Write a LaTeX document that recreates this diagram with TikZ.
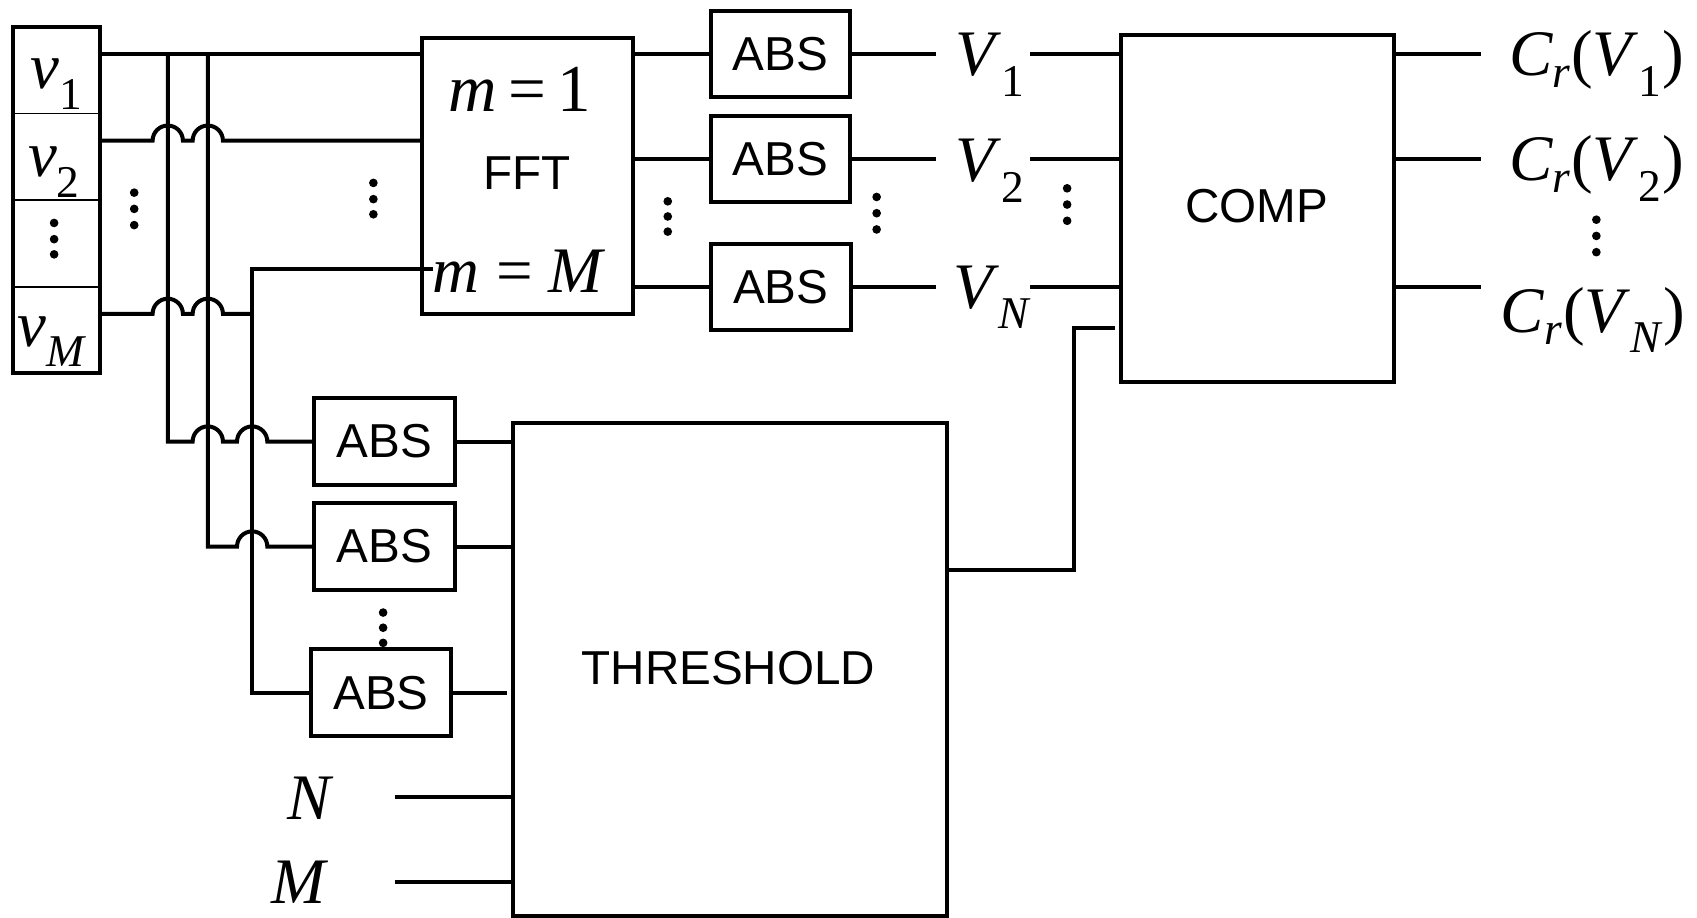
\documentclass[tikz,border=0pt]{standalone}
\usepackage{fontspec}
\setmainfont{Liberation Serif}
\newfontfamily\absfont{Liberation Sans}
\begin{document}
\begin{tikzpicture}[x=1pt,y=-1pt,
  box/.style={draw, line width=3.7pt, rectangle, inner sep=0pt, outer sep=0pt},
  blk/.style={box, font=\absfont\fontsize{44}{48}\selectfont},
  lbl/.style={inner sep=0pt, anchor=base, font=\fontsize{60}{64}\selectfont},
  sanslbl/.style={inner sep=0pt, font=\absfont\fontsize{44}{48}\selectfont},
  wire/.style={line width=3.7pt, line join=miter},
  thin/.style={line width=1.4pt},
  dot/.style={fill=black}]
\useasboundingbox (0,0) rectangle (1568,848);

% input register
\node[box, minimum width=80pt, minimum height=320pt] (inb) at (52,185) {};
\draw[thin] (inb.west |- 0,105) -- (inb.east |- 0,105);
\draw[thin] (inb.west |- 0,185) -- (inb.east |- 0,185);
\draw[thin] (inb.west |- 0,265) -- (inb.east |- 0,265);
\node[lbl] (lv1) at (52,82) {\textit{v}\textsubscript{1}};
\node[lbl] (lv2) at (50,163) {\textit{v}\textsubscript{2}};
\node[lbl] (lvM) at (48,320) {\textit{v}\textsubscript{\textit{M}}};

% FFT
\node[box, minimum width=195pt, minimum height=255pt] (fft) at (487.5,162.5) {};
\node[sanslbl] (fftl) at (487,160) {FFT};
\node[lbl, font=\fontsize{62}{66}\selectfont] (m1) at (480,103) {\textit{m}\,=\,1};
\node[lbl] (mM) at (480,270) {\textit{m} = \textit{M}};

% top ABS blocks
\node[blk, minimum width=128pt, minimum height=80pt] (absA) at (721,50) {ABS};
\node[blk, minimum width=128pt, minimum height=80pt] (absB) at (721,147) {ABS};
\node[blk, minimum width=129pt, minimum height=79pt] (absC) at (721.5,265) {ABS};

% COMP
\node[box, minimum width=252pt, minimum height=321pt] (comp) at (1162,192.5) {};
\node[sanslbl] (compl) at (1161,190) {COMP};

% lower ABS blocks
\node[blk, minimum width=130pt, minimum height=80pt] (abs1) at (355,408) {ABS};
\node[blk, minimum width=130pt, minimum height=80pt] (abs2) at (355,505) {ABS};
\node[blk, minimum width=130pt, minimum height=80pt] (abs3) at (352,640) {ABS};

% THRESHOLD
\node[box, minimum width=401pt, minimum height=455pt] (thr) at (674.5,618.5) {};
\node[sanslbl] (thrl) at (673,617) {THRESHOLD};

% V labels
\node[lbl] (V1) at (915,70) {\textit{V}\textsubscript{1}};
\node[lbl] (V2) at (915,168) {\textit{V}\textsubscript{2}};
\node[lbl] (VN) at (917,285) {\textit{V}\textsubscript{\textit{N}}};
\coordinate (aV1) at (865,50);
\coordinate (aV2) at (865,147);
\coordinate (aVN) at (865,265);
\coordinate (bV1) at (952,50);
\coordinate (bV2) at (952,147);
\coordinate (bVN) at (952,265);

% C labels
\node[lbl] (C1) at (1475,70) {\textit{C}\textsubscript{\textit{r}}(\textit{V}\textsubscript{1})};
\node[lbl] (C2) at (1475,167) {\textit{C}\textsubscript{\textit{r}}(\textit{V}\textsubscript{2})};
\node[lbl] (CN) at (1472,307) {\textit{C}\textsubscript{\textit{r}}(\textit{V}\textsubscript{\textit{N}})};
\coordinate (cC1) at (1368,50);
\coordinate (cC2) at (1368,147);
\coordinate (cCN) at (1368,265);

% N, M inputs
\node[lbl] (Nl) at (287,757) {\textit{N}};
\node[lbl] (Ml) at (277,835) {\textit{M}};
\coordinate (nN) at (365,736);
\coordinate (nM) at (365,815);

% ---- wires ----
% v1
\draw[wire] (inb.east |- 0,50) -- (fft.west |- 0,50);
% v2 with hops
\draw[wire] (inb.east |- 0,130) -- (141,130) arc[start angle=180,end angle=360,radius=14]
  -- (178,130) arc[start angle=180,end angle=360,radius=14] -- (fft.west |- 0,130);
% vM with hops
\draw[wire] (inb.east |- 0,290) -- (141,290) arc[start angle=180,end angle=360,radius=14]
  -- (178,290) arc[start angle=180,end angle=360,radius=14] -- (233,290);
% m=M input
\coordinate (mMin) at (400,249);
\draw[wire] (mMin) -- (233,249) -- (233,640) -- (abs3.west);
% branch 1
\draw[wire] (155,50) -- (155,408) -- (178,408) arc[start angle=180,end angle=360,radius=14]
  -- (219,408) arc[start angle=180,end angle=360,radius=14] -- (abs1.west);
% branch 2
\draw[wire] (192,50) -- (192,505) -- (219,505) arc[start angle=180,end angle=360,radius=14]
  -- (abs2.west);

% FFT -> top ABS
\draw[wire] (fft.east |- absA) -- (absA.west);
\draw[wire] (fft.east |- absB) -- (absB.west);
\draw[wire] (fft.east |- absC) -- (absC.west);
% top ABS -> V
\draw[wire] (absA.east) -- (aV1);
\draw[wire] (absB.east) -- (aV2);
\draw[wire] (absC.east) -- (aVN);
% V -> COMP
\draw[wire] (bV1) -- (comp.west |- bV1);
\draw[wire] (bV2) -- (comp.west |- bV2);
\draw[wire] (bVN) -- (comp.west |- bVN);
% COMP -> C
\draw[wire] (comp.east |- cC1) -- (cC1);
\draw[wire] (comp.east |- cC2) -- (cC2);
\draw[wire] (comp.east |- cCN) -- (cCN);

% lower ABS -> THRESHOLD
\draw[wire] (abs1.east) -- (thr.west |- abs1);
\draw[wire] (abs2.east) -- (thr.west |- abs2);
\draw[wire, shorten >=6pt] (abs3.east) -- (thr.west |- abs3);
\draw[wire] (nN) -- (thr.west |- nN);
\draw[wire] (nM) -- (thr.west |- nM);

% feedback THRESHOLD -> COMP
\draw[wire] (thr.east |- 0,527) -- (992,527) -- (992,303) -- ([xshift=-6pt]comp.west |- 0,303);

% dots
\foreach \x/\y in {124/178,124/193,124/208, 50/206,50/221,50/235, 345/169,345/184,345/198,
  617/186,617/200,617/214, 810/182,810/197,810/212, 986/174,986/189,986/204,
  1475/203,1475/218,1475/233, 354/566,354/580,354/594}
  \fill[dot] (\x,\y) circle[radius=4pt];
\end{tikzpicture}
\end{document}
